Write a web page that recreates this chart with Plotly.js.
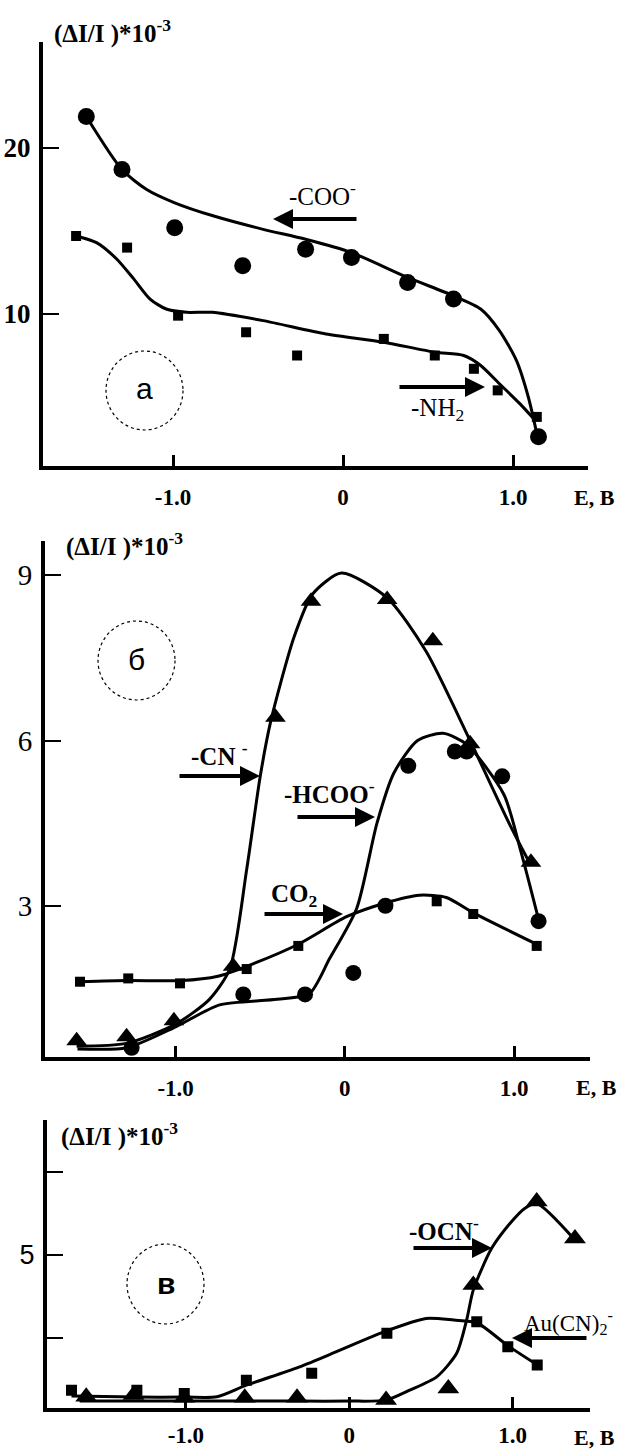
<!DOCTYPE html>
<html>
<head>
<meta charset="utf-8">
<script src="https://cdn.plot.ly/plotly-3.0.1.min.js"></script>
<style>html,body{margin:0;padding:0;background:#fff;}#chart{width:621px;height:1451px;}</style>
</head>
<body>
<div id="chart"></div>
<script>
// ---------- Panel a : -COO- (circles) and -NH2 (squares) ----------
const cooX = [-1.51, -1.30, -0.99, -0.59, -0.22, 0.05, 0.38, 0.65, 1.15];
const cooY = [21.9, 18.7, 15.2, 12.9, 13.9, 13.4, 11.9, 10.9, 2.6];
const cooFitX = [-1.51, -1.30, -1.155, -0.99, -0.76, -0.47, -0.22, 0.05, 0.38, 0.65, 0.81, 0.92, 1.02, 1.09, 1.14];
const cooFitY = [21.9, 18.7, 17.5, 16.7, 15.9, 15.1, 14.5, 13.7, 12.2, 11.1, 10.3, 9.0, 7.2, 5.0, 2.8];
const nh2X = [-1.57, -1.27, -0.97, -0.57, -0.27, 0.24, 0.54, 0.77, 0.91, 1.14];
const nh2Y = [14.7, 14.0, 9.9, 8.9, 7.5, 8.5, 7.5, 6.7, 5.4, 3.8];
const nh2FitX = [-1.57, -1.45, -1.33, -1.23, -1.135, -1.04, -0.92, -0.77, -0.47, -0.10, 0.24, 0.54, 0.71, 0.81, 0.92, 1.04, 1.13];
const nh2FitY = [14.7, 14.3, 13.3, 12.1, 10.9, 10.3, 10.1, 10.1, 9.6, 8.8, 8.3, 7.7, 7.5, 6.9, 5.8, 4.6, 3.6];

// ---------- Panel б : -CN- (triangles), -HCOO- (circles), CO2 (squares) ----------
const cnX = [-1.585, -1.29, -1.01, -0.66, -0.41, -0.20, 0.25, 0.52, 0.74, 1.10];
const cnY = [0.55, 0.62, 0.91, 1.9, 6.42, 8.53, 8.56, 7.81, 5.94, 3.79];
const cnFitX = [-1.585, -1.29, -1.0, -0.8, -0.68, -0.58, -0.50, -0.44, -0.30, -0.19, -0.02, 0.25, 0.48, 0.74, 0.98, 1.10];
const cnFitY = [0.45, 0.5, 0.85, 1.3, 1.85, 3.66, 5.35, 6.32, 7.88, 8.66, 9.04, 8.59, 7.62, 6.0, 4.44, 3.73];
const hcooX = [-1.26, -0.60, -0.235, 0.05, 0.24, 0.375, 0.65, 0.72, 0.93, 1.145];
const hcooY = [0.42, 1.39, 1.39, 1.78, 3.0, 5.54, 5.8, 5.8, 5.35, 2.72];
const hcooFitX = [-1.58, -1.29, -1.0, -0.74, -0.40, -0.21, -0.09, 0.07, 0.19, 0.29, 0.43, 0.58, 0.72, 0.94, 1.04, 1.145];
const hcooFitY = [0.4, 0.42, 0.8, 1.2, 1.3, 1.4, 2.04, 2.95, 4.5, 5.41, 6.0, 6.13, 5.93, 5.02, 3.99, 2.75];
const co2X = [-1.565, -1.28, -0.974, -0.58, -0.275, 0.543, 0.759, 1.134];
const co2Y = [1.62, 1.68, 1.59, 1.85, 2.27, 3.08, 2.85, 2.27];
const co2FitX = [-1.565, -1.28, -0.97, -0.75, -0.58, -0.275, 0.01, 0.24, 0.44, 0.60, 0.76, 1.134];
const co2FitY = [1.62, 1.64, 1.64, 1.72, 1.9, 2.3, 2.8, 3.05, 3.19, 3.15, 2.87, 2.3];

// ---------- Panel в : -OCN- (triangles), Au(CN)2- (squares) ----------
const auX = [-1.70, -1.30, -1.01, -0.63, -0.23, 0.23, 0.78, 0.97, 1.15];
const auY = [0.93, 0.93, 0.83, 1.23, 1.44, 2.64, 2.99, 2.24, 1.69];
const auFitX = [-1.70, -1.30, -1.0, -0.81, -0.63, -0.32, -0.12, 0.23, 0.47, 0.64, 0.78, 0.97, 1.15];
const auFitY = [0.75, 0.72, 0.72, 0.73, 1.08, 1.6, 2.0, 2.72, 3.09, 3.04, 2.96, 2.27, 1.69];
const ocnX = [-1.61, -1.32, -1.01, -0.64, -0.32, 0.225, 0.606, 0.759, 1.147, 1.381];
const ocnY = [0.73, 0.78, 0.70, 0.70, 0.70, 0.63, 0.98, 4.1, 6.61, 5.5];
const ocnFitX = [-1.65, -1.3, -1.0, -0.6, -0.3, 0.0, 0.225, 0.37, 0.535, 0.657, 0.718, 0.759, 0.871, 0.983, 1.075, 1.147, 1.381];
const ocnFitY = [0.6, 0.6, 0.6, 0.6, 0.6, 0.6, 0.63, 0.93, 1.33, 2.04, 3.04, 3.95, 5.2, 5.95, 6.41, 6.55, 5.45];

// tick labels
const xTickVals = [-1, 0, 1];
const xTickText = ['-1.0', '0', '1.0'];
const aYTickVals = [10, 20];
const aYTickText = ['10', '20'];
const bYTickVals = [3, 6, 9];
const bYTickText = ['3', '6', '9'];
const cYTickVals = [2.5, 5, 7.5];
const cYTickText = ['', '5', ''];

// ---------- helpers (layout only) ----------
const W = 621, H = 1451;
const PX = v => v / W;
const PY = v => 1 - v / H;
const SERIF = 'Liberation Serif';
const SANS = 'Liberation Sans';

function fit(x, y, xa, ya) {
  return {x: x, y: y, xaxis: xa, yaxis: ya, type: 'scatter', mode: 'lines',
    line: {color: '#000', width: 3, shape: 'spline', smoothing: 0.7}, hoverinfo: 'skip'};
}
function pts(x, y, xa, ya, sym, size) {
  return {x: x, y: y, xaxis: xa, yaxis: ya, type: 'scatter', mode: 'markers',
    marker: {color: '#000', symbol: sym, size: size, line: {width: 0}}};
}

const traces = [
  fit(cooFitX, cooFitY, 'x', 'y'), pts(cooX, cooY, 'x', 'y', 'circle', 17),
  fit(nh2FitX, nh2FitY, 'x', 'y'), pts(nh2X, nh2Y, 'x', 'y', 'square', 10),
  fit(cnFitX, cnFitY, 'x2', 'y2'), pts(cnX, cnY, 'x2', 'y2', 'triangle-up', 18),
  fit(hcooFitX, hcooFitY, 'x2', 'y2'), pts(hcooX, hcooY, 'x2', 'y2', 'circle', 16),
  fit(co2FitX, co2FitY, 'x2', 'y2'), pts(co2X, co2Y, 'x2', 'y2', 'square', 10),
  fit(auFitX, auFitY, 'x3', 'y3'), pts(auX, auY, 'x3', 'y3', 'square', 11),
  fit(ocnFitX, ocnFitY, 'x3', 'y3'), pts(ocnX, ocnY, 'x3', 'y3', 'triangle-up', 19)
];

function xax(domain, range, anchor, standoff) {
  return {domain: domain, range: range, anchor: anchor, showline: true, linewidth: 4, linecolor: '#000',
    showgrid: false, zeroline: false, ticks: 'inside', ticklen: 11, tickwidth: 3, tickcolor: '#000',
    tickvals: xTickVals, ticktext: xTickText, ticklabelstandoff: standoff,
    tickfont: {family: SERIF, size: 23, color: '#000', weight: 'bold'}};
}
function yax(domain, range, anchor, vals, text, font, tw) {
  return {domain: domain, range: range, anchor: anchor, showline: true, linewidth: 4, linecolor: '#000',
    showgrid: false, zeroline: false, ticks: 'inside', ticklen: 16, tickwidth: tw, tickcolor: '#000',
    tickvals: vals, ticktext: text, ticklabelstandoff: 3, tickfont: font};
}

const layout = {
  width: W, height: H, margin: {l: 0, r: 0, t: 0, b: 0},
  paper_bgcolor: '#fff', plot_bgcolor: 'rgba(0,0,0,0)', showlegend: false,
  xaxis: xax([PX(43), PX(588)], [-1.7647, 1.4412], 'y', 7),
  yaxis: yax([PY(466), PY(42)], [0.843, 26.386], 'x', aYTickVals, aYTickText,
    {family: SERIF, size: 27, color: '#000', weight: 'bold'}, 1.5),
  xaxis2: xax([PX(45), PX(590)], [-1.772, 1.449], 'y2', 7),
  yaxis2: yax([PY(1057), PY(540.7)], [0.253, 9.628], 'x2', bYTickVals, bYTickText,
    {family: SERIF, size: 29, color: '#000'}, 2),
  xaxis3: xax([PX(47), PX(590)], [-1.850, 1.473], 'y3', 3),
  yaxis3: yax([PY(1408.3), PY(1120)], [0.383, 9.066], 'x3', cYTickVals, cYTickText,
    {family: SANS, size: 27, color: '#000'}, 2),
  shapes: [
    {type: 'circle', xref: 'paper', yref: 'paper', x0: PX(106), x1: PX(183), y0: PY(430), y1: PY(351),
      line: {color: '#000', width: 1.2, dash: 'dot'}},
    {type: 'circle', xref: 'paper', yref: 'paper', x0: PX(98), x1: PX(175), y0: PY(700), y1: PY(621),
      line: {color: '#000', width: 1.2, dash: 'dot'}},
    {type: 'circle', xref: 'paper', yref: 'paper', x0: PX(127), x1: PX(204), y0: PY(1324), y1: PY(1244),
      line: {color: '#000', width: 1.2, dash: 'dot'}}
  ],
  annotations: []
};

function txt(t, x, y, font, xanchor) {
  layout.annotations.push({xref: 'paper', yref: 'paper', x: PX(x), y: PY(y), text: t, showarrow: false,
    xanchor: xanchor || 'left', yanchor: 'middle', font: font});
}
function arrow(hx, hy, tx, ty) {
  layout.annotations.push({xref: 'paper', yref: 'paper', x: PX(hx), y: PY(hy), ax: tx - hx, ay: ty - hy,
    axref: 'pixel', ayref: 'pixel', text: '', showarrow: true, arrowhead: 2, arrowsize: 1,
    arrowwidth: 4, arrowcolor: '#000', standoff: 0, startstandoff: 0});
}
const fT = {family: SERIF, size: 25, color: '#000', weight: 'bold'};
const fL = {family: SERIF, size: 25, color: '#000'};
const fAu = {family: SERIF, size: 23, color: '#000'};
const fLB = {family: SERIF, size: 25, color: '#000', weight: 'bold'};
const fC = {family: SANS, size: 30, color: '#000'};
const fCB = {family: SANS, size: 30, color: '#000', weight: 'bold'};
const fE = {family: SERIF, size: 22, color: '#000', weight: 'bold'};

// axis titles
txt('(ΔI/I )*10<sup>-3</sup>', 52, 32, fT);
txt('(ΔI/I )*10<sup>-3</sup>', 64, 545, fT);
txt('(ΔI/I )*10<sup>-3</sup>', 59, 1134, fT);
txt('E, B', 572, 497, fE);
txt('E, B', 574, 1087, fE);
txt('E, B', 572, 1437, fE);

// panel letters
txt('a', 144.5, 389, fC, 'center');
txt('б', 136.5, 659, fC, 'center');
txt('в', 165.5, 1283, fCB, 'center');

// panel a labels
txt('-COO<sup>-</sup>', 287, 194, fL);
arrow(273, 219, 358, 219);
txt('-NH<sub>2</sub>', 409, 410, fL);
arrow(485, 387, 398, 387);

// panel б labels
txt('-CN <sup>-</sup>', 189, 754, fLB);
arrow(260, 776, 178, 776);
txt('-HCOO<sup>-</sup>', 282, 792, fLB);
arrow(375, 817, 296, 817);
txt('CO<sub>2</sub>', 269, 895, fLB);
arrow(343, 914, 263, 914);

// panel в labels
txt('-OCN<sup>-</sup>', 407, 1229, fLB);
arrow(492, 1248, 412, 1248);
txt('Au(CN)<sub>2</sub><sup>-</sup>', 522, 1322, fAu);
arrow(512, 1338, 588, 1338);

Plotly.newPlot('chart', traces, layout, {staticPlot: true, displayModeBar: false});
</script>
</body>
</html>
